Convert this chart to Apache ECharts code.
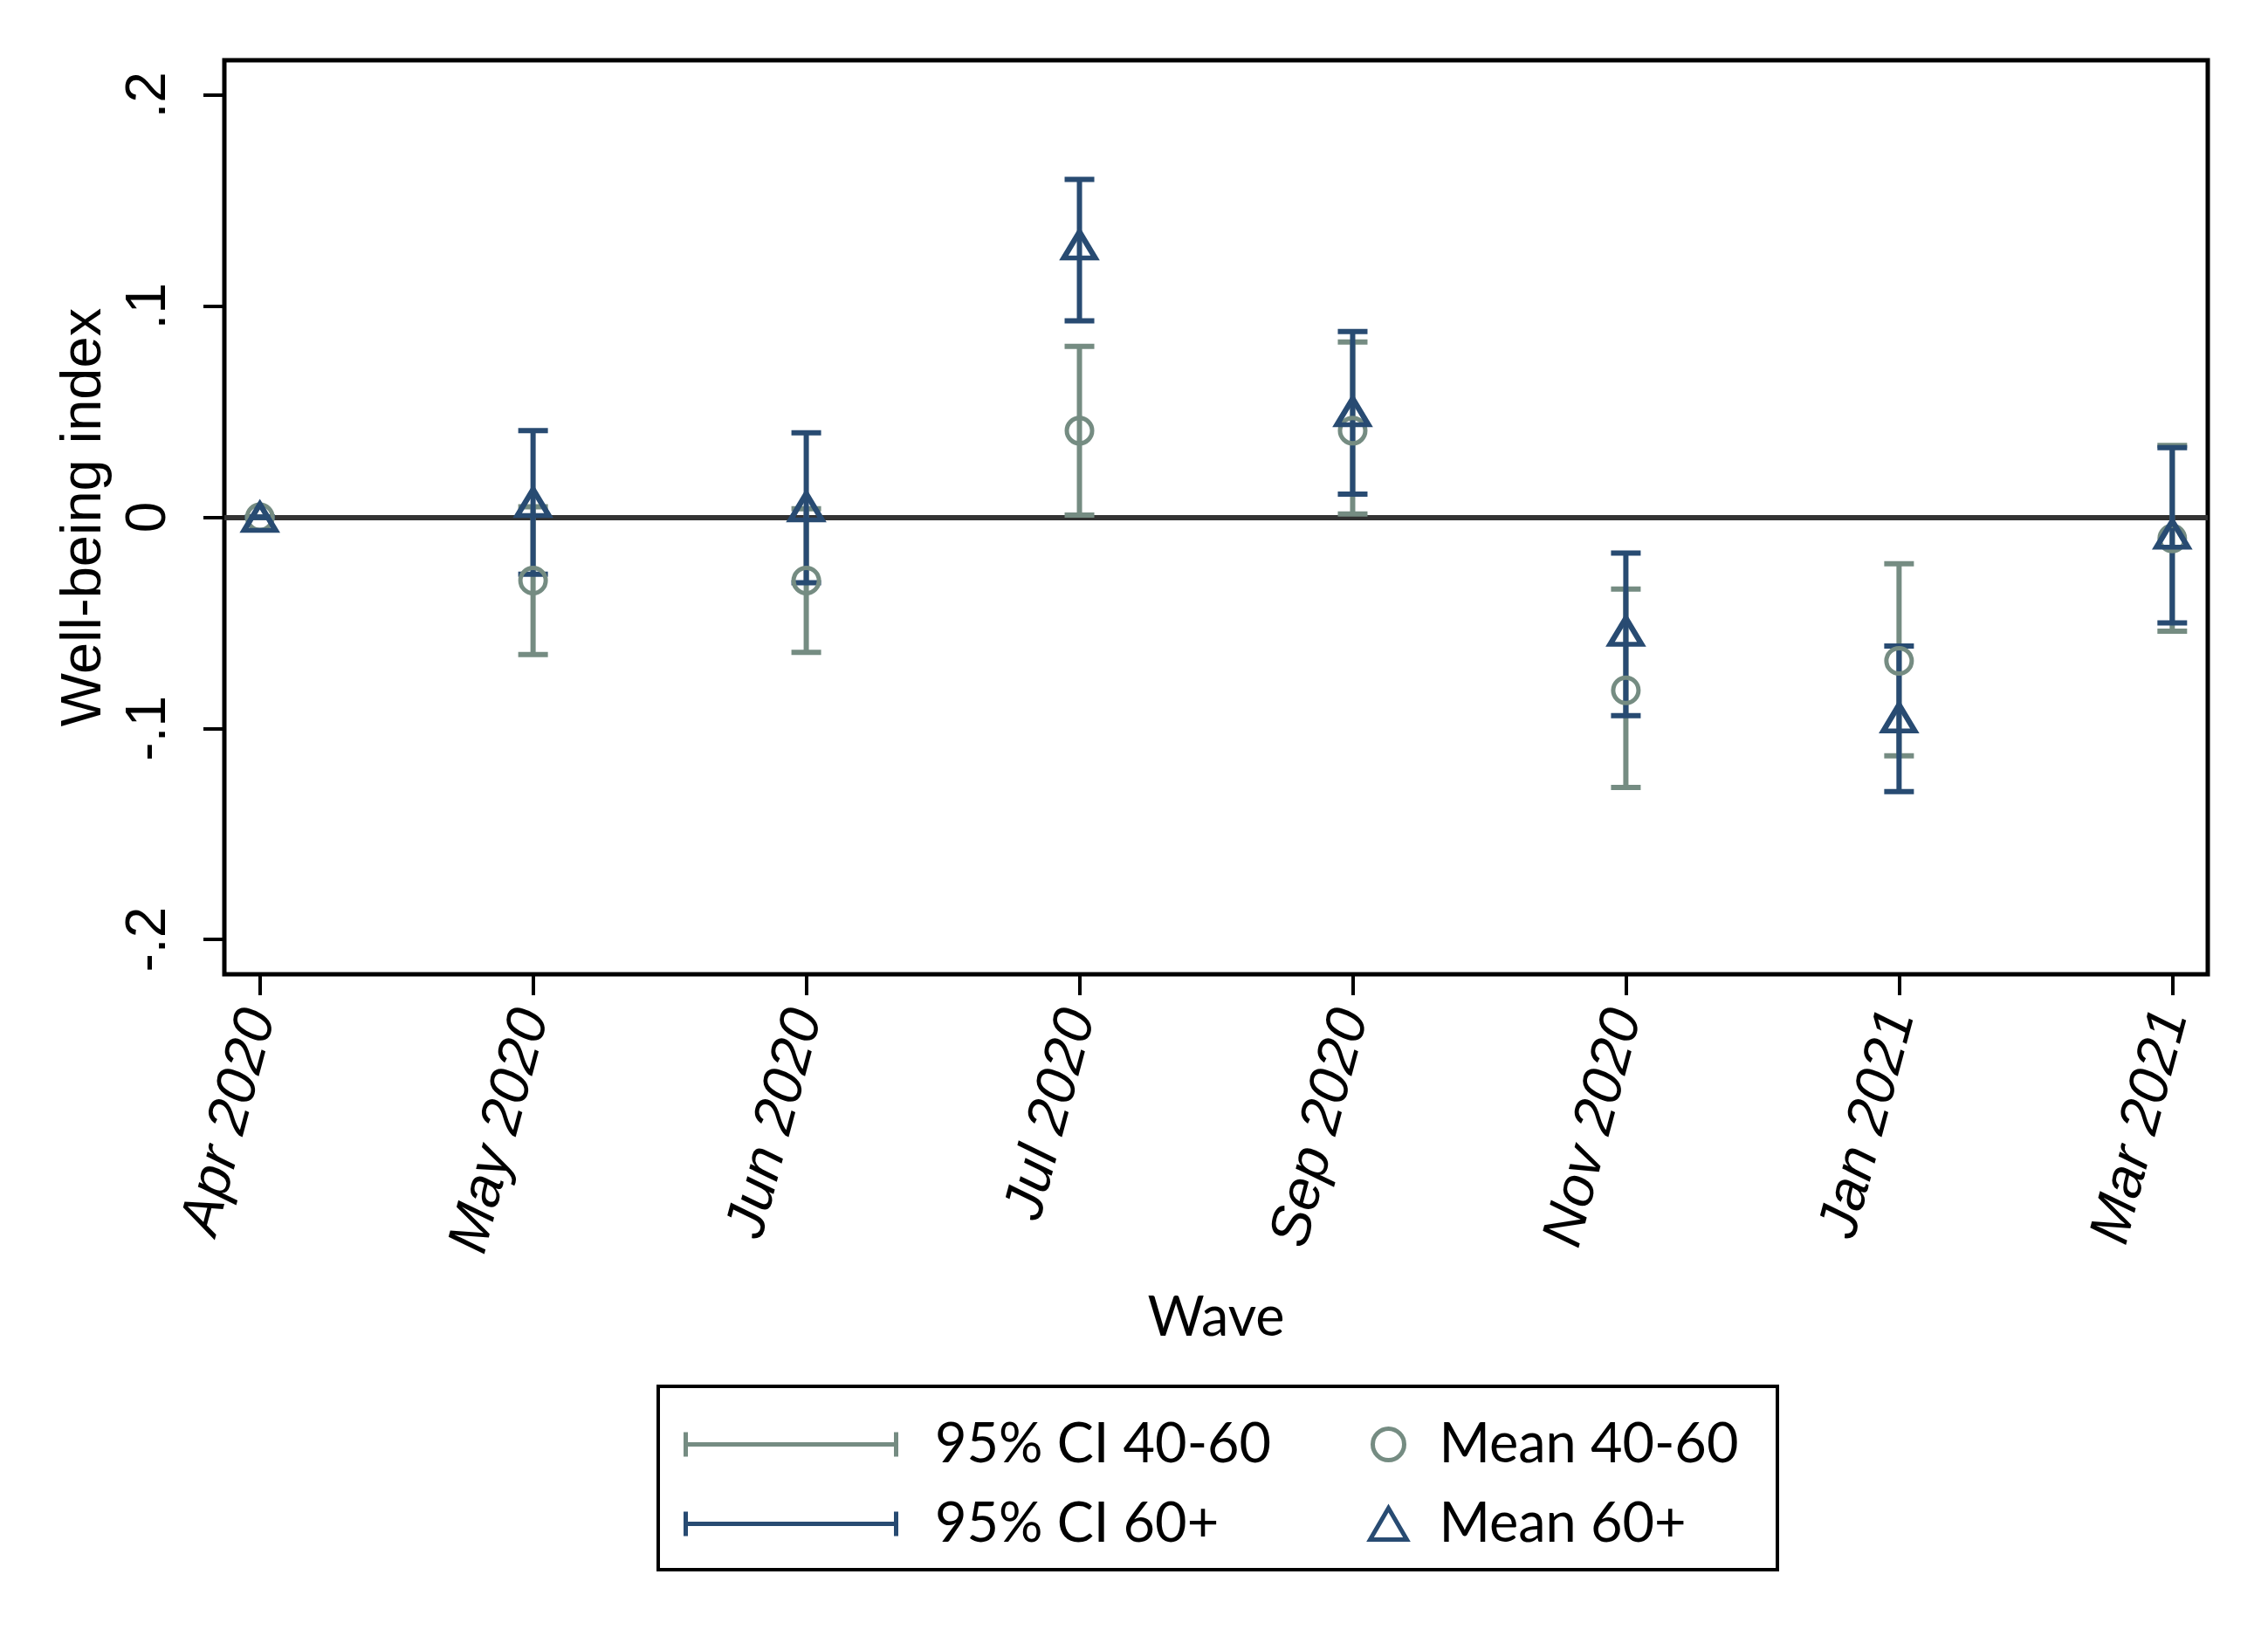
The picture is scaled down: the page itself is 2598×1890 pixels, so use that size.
<!DOCTYPE html>
<html>
<head>
<meta charset="utf-8">
<script src="https://cdn.jsdelivr.net/npm/echarts@6/dist/echarts.min.js"></script>
<style>
html,body{margin:0;padding:0;background:#fff;}
#chart{width:2598px;height:1890px;}
</style>
</head>
<body>
<div id="chart"></div>
<script>
// ---- data ----
var categories = ['Apr 2020','May 2020','Jun 2020','Jul 2020','Sep 2020','Nov 2020','Jan 2021','Mar 2021'];
var mean4060 = [0, -0.030, -0.030, 0.041, 0.041, -0.082, -0.068, -0.010];
var lo4060   = [0, -0.065, -0.064, 0.001, 0.0015, -0.128, -0.113, -0.054];
var hi4060   = [0, 0.005, 0.004, 0.081, 0.083, -0.034, -0.022, 0.034];
var mean60   = [0, 0.007, 0.005, 0.129, 0.050, -0.054, -0.095, -0.008];
var lo60     = [0, -0.027, -0.031, 0.093, 0.011, -0.094, -0.130, -0.050];
var hi60     = [0, 0.041, 0.040, 0.160, 0.088, -0.017, -0.061, 0.033];
var yTickValues = [-0.2, -0.1, 0, 0.1, 0.2];
var yTickLabels = ['-.2', '-.1', '0', '.1', '.2'];
var seriesNames = ['95% CI 40-60', '95% CI 60+', 'Mean 40-60', 'Mean 60+'];

var GREEN = '#758C82';
var NAVY = '#284B72';

var xIdx = categories.map(function(_, i){ return i; });
function ciData(lo, hi){ return xIdx.map(function(i){ return [i, lo[i], hi[i]]; }); }
function ptData(m){ return xIdx.map(function(i){ return [i, m[i]]; }); }

function makeCI(color){
  return function(params, api){
    var x = api.value(0), lo = api.value(1), hi = api.value(2);
    var a = api.coord([x, lo]), b = api.coord([x, hi]);
    var hw = 17;
    var st = {stroke: color, lineWidth: 6, lineCap: 'butt'};
    return {type:'group', children:[
      {type:'line', shape:{x1:a[0], y1:a[1], x2:b[0], y2:b[1]}, style:st},
      {type:'line', shape:{x1:b[0]-hw, y1:b[1], x2:b[0]+hw, y2:b[1]}, style:st},
      {type:'line', shape:{x1:a[0]-hw, y1:a[1], x2:a[0]+hw, y2:a[1]}, style:st}
    ]};
  };
}

var ciIcon = 'path://M0,0h5v28h-5z M5,11.5h236v5h-236z M241,0h5v28h-5z';

var chart = echarts.init(document.getElementById('chart'), null, {renderer:'canvas'});
chart.setOption({
  backgroundColor: '#fff',
  animation: false,
  grid: {left: 257, right: 69, top: 69, bottom: 774, show: true, borderColor: '#000', borderWidth: 5, containLabel: false},
  xAxis: {
    type: 'value', min: -0.13, max: 7.13,
    axisLine: {show: false, onZero: false},
    splitLine: {show: false},
    axisTick: {show: true, length: 24, lineStyle: {color: '#000', width: 4}, customValues: xIdx},
    axisLabel: {
      customValues: xIdx, rotate: 75, margin: 42,
      fontFamily: 'Liberation Sans', fontStyle: 'italic', fontSize: 65, color: '#000',
      formatter: function(v){ return categories[Math.round(v)]; }
    },
    name: 'Wave', nameLocation: 'middle', nameGap: 362,
    nameTextStyle: {fontFamily: 'Lato', fontSize: 63, color: '#000'}
  },
  yAxis: {
    type: 'value', min: -0.2165, max: 0.2165,
    axisLine: {show: false, onZero: false},
    splitLine: {show: false},
    axisTick: {show: true, length: 24, lineStyle: {color: '#000', width: 4}, customValues: yTickValues},
    axisLabel: {
      customValues: yTickValues, rotate: 90, margin: 54,
      fontFamily: 'Liberation Sans', fontSize: 64, color: '#000',
      formatter: function(v){
        for (var i = 0; i < yTickValues.length; i++) { if (Math.abs(yTickValues[i] - v) < 1e-9) return yTickLabels[i]; }
        return '';
      }
    },
    name: 'Well-being index', nameLocation: 'middle', nameGap: 127, nameRotate: 90,
    nameTextStyle: {fontFamily: 'Liberation Sans', fontSize: 65, color: '#000'}
  },
  legend: [
    {
      orient: 'vertical', left: 778, top: 1618, itemWidth: 246, itemHeight: 28, itemGap: 28,
      selectedMode: false,
      textStyle: {fontFamily: 'Lato', fontSize: 63, color: '#000', padding: [0,0,0,37]},
      data: [
        {name: seriesNames[0], icon: ciIcon, itemStyle: {color: GREEN, borderWidth: 0}},
        {name: seriesNames[1], icon: ciIcon, itemStyle: {color: NAVY, borderWidth: 0}}
      ]
    },
    {
      orient: 'vertical', left: 1562, top: 1618, itemWidth: 42, itemHeight: 36, itemGap: 28,
      selectedMode: false,
      textStyle: {fontFamily: 'Lato', fontSize: 63, color: '#000', padding: [0,0,0,32]},
      data: [
        {name: seriesNames[2], icon: 'circle', itemStyle: {color: 'rgba(0,0,0,0)', borderColor: GREEN, borderWidth: 5}},
        {name: seriesNames[3], icon: 'triangle', itemStyle: {color: 'rgba(0,0,0,0)', borderColor: NAVY, borderWidth: 5}}
      ]
    }
  ],
  graphic: [
    {type: 'rect', shape: {x: 754, y: 1588, width: 1282, height: 210}, style: {fill: 'none', stroke: '#000', lineWidth: 4}, z: 0}
  ],
  series: [
    {
      name: seriesNames[0], type: 'custom', renderItem: makeCI(GREEN), data: ciData(lo4060, hi4060),
      itemStyle: {color: GREEN}, z: 3, encode: {x: 0, y: [1, 2]},
      markLine: {
        silent: true, symbol: 'none', label: {show: false}, z: 1,
        lineStyle: {color: '#333', width: 6, type: 'solid'},
        data: [{yAxis: 0}]
      }
    },
    {
      name: seriesNames[1], type: 'custom', renderItem: makeCI(NAVY), data: ciData(lo60, hi60),
      itemStyle: {color: NAVY}, z: 4, encode: {x: 0, y: [1, 2]}
    },
    {
      name: seriesNames[2], type: 'scatter', data: ptData(mean4060), symbol: 'circle', symbolSize: 29,
      itemStyle: {color: 'rgba(0,0,0,0)', borderColor: GREEN, borderWidth: 5, opacity: 1}, z: 5
    },
    {
      name: seriesNames[3], type: 'scatter', data: ptData(mean60), symbol: 'triangle', symbolSize: [36, 30],
      itemStyle: {color: 'rgba(0,0,0,0)', borderColor: NAVY, borderWidth: 6, opacity: 1}, z: 6
    }
  ]
});
</script>
</body>
</html>
